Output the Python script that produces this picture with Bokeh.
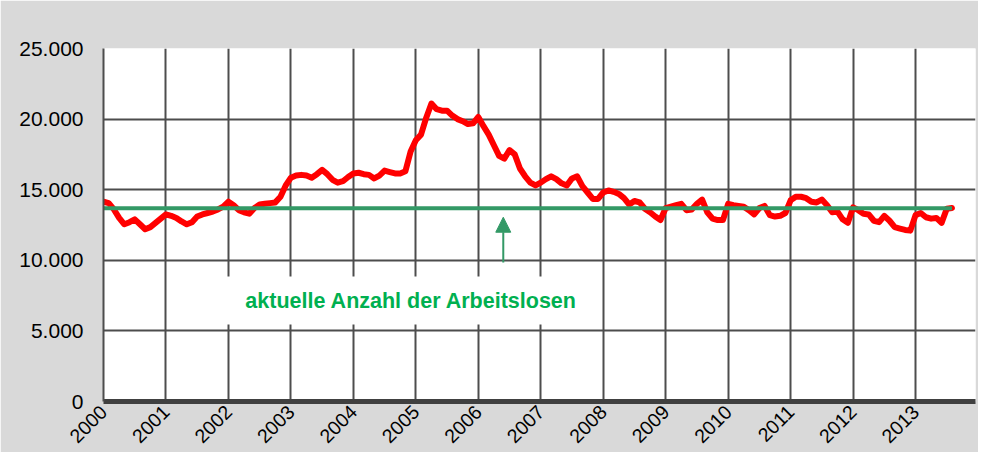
import math
from bokeh.plotting import figure
from bokeh.models import Range1d, FixedTicker, Label, Arrow, NormalHead
from bokeh.embed import file_html
from bokeh.resources import INLINE

# Monthly number of unemployed, Jan 2000 .. Aug 2013
start_year = 2000
values = [
    14150, 14050, 13600, 13000, 12550, 12700, 12900, 12550, 12200, 12350, 12650, 12950,  # 2000
    13250, 13150, 13000, 12750, 12550, 12700, 13100, 13250, 13350, 13450, 13600, 13800,  # 2001
    14150, 13900, 13550, 13400, 13300, 13700, 13950, 14000, 14050, 14100, 14500, 15300,  # 2002
    15850, 16000, 16050, 16000, 15850, 16100, 16400, 16100, 15700, 15500, 15600, 15900,  # 2003
    16150, 16200, 16100, 16050, 15800, 16000, 16350, 16250, 16150, 16150, 16300, 17700,  # 2004
    18500, 18900, 20100, 21100, 20700, 20600, 20600, 20250, 20000, 19850, 19650, 19700,  # 2005
    20150, 19500, 18900, 18150, 17400, 17200, 17800, 17500, 16500, 15950, 15500, 15300,  # 2006
    15500, 15750, 15950, 15750, 15450, 15300, 15800, 15950, 15250, 14800, 14350, 14350,  # 2007
    14800, 14950, 14850, 14700, 14400, 13950, 14200, 14100, 13650, 13400, 13100, 12850,  # 2008
    13700, 13800, 13900, 14000, 13550, 13600, 14000, 14300, 13400, 12950, 12850, 12850,  # 2009
    14000, 13900, 13850, 13800, 13550, 13250, 13700, 13850, 13200, 13100, 13150, 13350,  # 2010
    14250, 14500, 14500, 14400, 14150, 14100, 14300, 13900, 13400, 13450, 12900, 12650,  # 2011
    13750, 13550, 13300, 13250, 12800, 12700, 13150, 12800, 12350, 12250, 12150, 12100,  # 2012
    13200, 13350, 13050, 12950, 13000, 12650, 13650, 13700,                              # 2013
]
months = [start_year + i / 12 for i in range(len(values))]
current_value = 13680
current = [current_value] * len(values)

year_ticks = list(range(2000, 2014))
year_labels = [str(y) for y in year_ticks]
y_ticks = [0, 5000, 10000, 15000, 20000, 25000]
y_labels = ["0", "5.000", "10.000", "15.000", "20.000", "25.000"]

annotation_text = "aktuelle Anzahl der Arbeitslosen"
text_pos = (2004.93, 7150)
arrow_x = 2006.4
arrow_from, arrow_to = 9850, 13050

p = figure(width=978, height=452, output_backend="svg", toolbar_location=None,
           x_range=Range1d(2000, 2013.96), y_range=Range1d(0, 25000),
           min_border_left=103, min_border_right=3, min_border_top=48, min_border_bottom=49)
p.border_fill_color = "#d9d9d9"
p.background_fill_color = "white"
p.outline_line_color = None

GRID = "#4d4d4d"
p.xaxis.ticker = FixedTicker(ticks=year_ticks)
p.xaxis.major_label_overrides = {y: l for y, l in zip(year_ticks, year_labels)}
p.yaxis.ticker = FixedTicker(ticks=y_ticks)
p.yaxis.major_label_overrides = {v: l for v, l in zip(y_ticks, y_labels)}

for ax in (p.xaxis, p.yaxis):
    ax.major_tick_in = 0
    ax.major_tick_out = 0
    ax.minor_tick_in = 0
    ax.minor_tick_out = 0
    ax.major_label_text_color = "black"
    ax.major_label_text_font = "Liberation Sans"

p.xaxis.major_label_orientation = math.pi / 4
p.xaxis.major_label_text_font_size = "19.5px"
p.xaxis.major_label_standoff = 7
p.xaxis.axis_line_color = "#404040"
p.xaxis.axis_line_width = 5
p.yaxis.major_label_text_font_size = "21px"
p.yaxis.major_label_standoff = 20
p.yaxis.axis_line_color = GRID
p.yaxis.axis_line_width = 2

p.xgrid.ticker = FixedTicker(ticks=year_ticks)
p.ygrid.ticker = FixedTicker(ticks=y_ticks)
for g in (p.xgrid, p.ygrid):
    g.grid_line_color = GRID
    g.grid_line_width = 2

p.line(months, values, line_color="#ff0000", line_width=6, line_join="round", line_cap="round")
p.line(months, current, line_color="#339966", line_width=4)

p.add_layout(Arrow(end=NormalHead(size=15, fill_color="#339966", line_color="#339966", line_width=1),
                   x_start=arrow_x, y_start=arrow_from, x_end=arrow_x, y_end=arrow_to,
                   line_color="#339966", line_width=2))

p.add_layout(Label(x=text_pos[0], y=text_pos[1], text=annotation_text,
                   text_align="center", text_baseline="middle",
                   text_font="Liberation Sans", text_font_style="bold",
                   text_font_size="21.5px", text_color="#00b050",
                   background_fill_color="white", padding=(21, 12)))

open("out.html", "w").write(file_html(p, INLINE))
